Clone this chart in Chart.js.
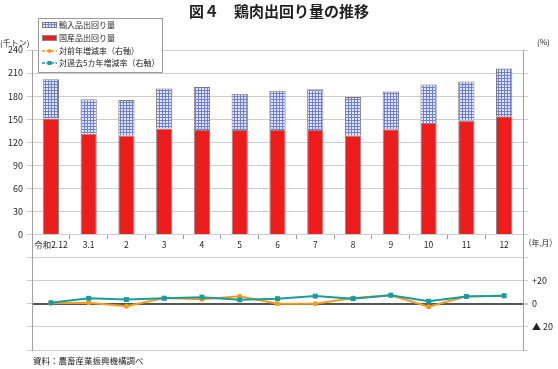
<!DOCTYPE html>
<html>
<head>
<meta charset="utf-8">
<script src="https://cdn.jsdelivr.net/npm/chart.js@4.4.1/dist/chart.umd.min.js"></script>
<style>
html, body { margin: 0; padding: 0; background: #fff; }
#wrap { width: 558px; height: 369px; position: relative; }
</style>
</head>
<body>
<div id="wrap"><canvas id="chart"></canvas></div>
<script>
// 鶏肉出回り量（千トン）と増減率（%）
const months = ['令和2.12', '3.1', '2', '3', '4', '5', '6', '7', '8', '9', '10', '11', '12'];
const domestic = [151, 131, 129, 138, 136, 136, 136, 136, 129, 137, 145, 148, 154];
const imported = [51, 45, 46, 52, 56, 47, 51, 53, 50, 49, 50, 51, 62];
const yoyRate = [0.5, 1, -2, 5, 4, 6.5, 0, 0, 5, 7.5, -2.5, 6.5, 7];
const fiveYearRate = [1, 4.8, 3.7, 4.8, 5.8, 3.5, 4.5, 6.7, 4.5, 7.5, 2.3, 6.4, 7];
const rightTickLabels = { '20': '+20', '0': '0', '-20': '▲ 20' };

const FONT = "'Noto Sans CJK JP', 'Noto Sans', sans-serif";
const canvas = document.getElementById('chart');
const ctx = canvas.getContext('2d');

// 輸入品の格子模様
function gridPattern() {
  const tile = document.createElement('canvas');
  tile.width = 3; tile.height = 3;
  const g = tile.getContext('2d');
  g.fillStyle = '#e4e7fb';
  g.fillRect(0, 0, 3, 3);
  g.fillStyle = '#6f7fd2';
  g.fillRect(0, 0, 3, 1);
  g.fillRect(0, 0, 1, 3);
  return ctx.createPattern(tile, 'repeat');
}
const importFill = gridPattern();

const RED = '#ee1d1d';
const ORANGE = '#f29b22';
const TEAL = '#1a9c9e';

const extraText = {
  id: 'extraText',
  afterDraw(chart) {
    const c = chart.ctx;
    c.save();
    c.textBaseline = 'middle';

    // 凡例
    c.fillStyle = '#fff';
    c.fillRect(38, 18, 124, 54);
    c.strokeStyle = '#999';
    c.lineWidth = 1;
    c.strokeRect(38.5, 18.5, 124, 54);

    const items = [
      { text: '輸入品出回り量', kind: 'bar', fill: importFill, stroke: '#7a7a7a', y: 25 },
      { text: '国産品出回り量', kind: 'bar', fill: RED, stroke: '#8a8a8a', y: 38 },
      { text: '対前年増減率（右軸）', kind: 'line', color: ORANGE, marker: 'circle', y: 51 },
      { text: '対過去5カ年増減率（右軸）', kind: 'line', color: TEAL, marker: 'rect', y: 63 }
    ];
    c.font = '8px ' + FONT;
    c.textAlign = 'left';
    items.forEach(it => {
      if (it.kind === 'bar') {
        c.fillStyle = it.fill;
        c.fillRect(42, it.y - 2.5, 15, 5);
        c.strokeStyle = it.stroke;
        c.strokeRect(42.5, it.y - 2.5, 14, 5);
      } else {
        c.strokeStyle = it.color;
        c.lineWidth = 1.5;
        c.setLineDash([3, 1.5]);
        c.beginPath();
        c.moveTo(42, it.y);
        c.lineTo(57, it.y);
        c.stroke();
        c.setLineDash([]);
        c.fillStyle = it.color;
        c.beginPath();
        if (it.marker === 'circle') c.arc(49.5, it.y, 2, 0, Math.PI * 2);
        else c.rect(47.5, it.y - 2, 4, 4);
        c.fill();
      }
      c.fillStyle = '#222';
      c.fillText(it.text, 59, it.y);
    });

    c.fillStyle = '#222';
    c.font = 'bold 15px ' + FONT;
    c.textAlign = 'center';
    c.fillText('図４　鶏肉出回り量の推移', 279, 11);

    c.textAlign = 'left';
    c.font = '8px ' + FONT;
    c.fillText('(千トン)', 0, 43, 34);
    c.fillText('(%)', 537, 42);
    c.fillText('（年.月）', 524, 243, 33);
    c.font = '8.5px ' + FONT;
    c.fillText('資料：農畜産業振興機構調べ', 33, 361);
    c.restore();
  }
};

new Chart(canvas, {
  data: {
    labels: months,
    datasets: [
      {
        type: 'bar', label: '国産品出回り量', data: domestic,
        backgroundColor: RED, borderColor: '#8a8a8a', borderWidth: 1,
        yAxisID: 'y', order: 3
      },
      {
        type: 'bar', label: '輸入品出回り量', data: imported,
        backgroundColor: importFill, borderColor: '#7a7a7a', borderWidth: 1,
        yAxisID: 'y', order: 3
      },
      {
        type: 'line', label: '対前年増減率（右軸）', data: yoyRate,
        borderColor: ORANGE, backgroundColor: ORANGE, borderWidth: 2,
        pointStyle: 'circle', pointRadius: 2.5, pointBorderWidth: 0,
        yAxisID: 'y1', order: 1
      },
      {
        type: 'line', label: '対過去5カ年増減率（右軸）', data: fiveYearRate,
        borderColor: TEAL, backgroundColor: TEAL, borderWidth: 2,
        pointStyle: 'rect', pointRadius: 3.5, pointBorderWidth: 0,
        yAxisID: 'y1', order: 0
      }
    ]
  },
  options: {
    responsive: true,
    maintainAspectRatio: false,
    animation: false,
    layout: { padding: { top: 50, bottom: 19, left: 0, right: 0 } },
    plugins: {
      legend: { display: false },
      title: { display: false },
      tooltip: { enabled: false }
    },
    datasets: { bar: { barPercentage: 0.43, categoryPercentage: 1 } },
    scales: {
      x: {
        position: { y: 0 },
        stacked: true,
        offset: true,
        grid: { drawOnChartArea: false, offset: true, tickLength: 4, color: '#999' },
        border: { display: false },
        ticks: { font: { family: FONT, size: 8.5 }, color: '#222', padding: 1, maxRotation: 0, autoSkip: false }
      },
      y: {
        position: 'left',
        stacked: true,
        min: -150,
        max: 240,
        ticks: {
          stepSize: 30,
          font: { family: FONT, size: 9 }, color: '#222', padding: 4,
          callback: v => (v >= 0 ? v : '')
        },
        grid: { color: '#cdcdcd', tickLength: 5 },
        border: { color: '#a0a0a0' },
        afterFit: s => { s.width = 32; }
      },
      y1: {
        position: 'right',
        min: -40,
        max: 220,
        ticks: {
          stepSize: 20,
          font: { family: FONT, size: 9 }, color: '#222', padding: 4,
          callback: v => rightTickLabels[String(v)] || ''
        },
        grid: {
          drawOnChartArea: true,
          color: c => (c.tick && c.tick.value === 0 ? '#555' : 'rgba(0,0,0,0)'),
          lineWidth: c => (c.tick && c.tick.value === 0 ? 2 : 1),
          tickColor: '#cdcdcd',
          tickLength: 5
        },
        border: { color: '#a0a0a0' },
        afterFit: s => { s.width = 35; }
      }
    }
  },
  plugins: [extraText]
});
</script>
</body>
</html>
